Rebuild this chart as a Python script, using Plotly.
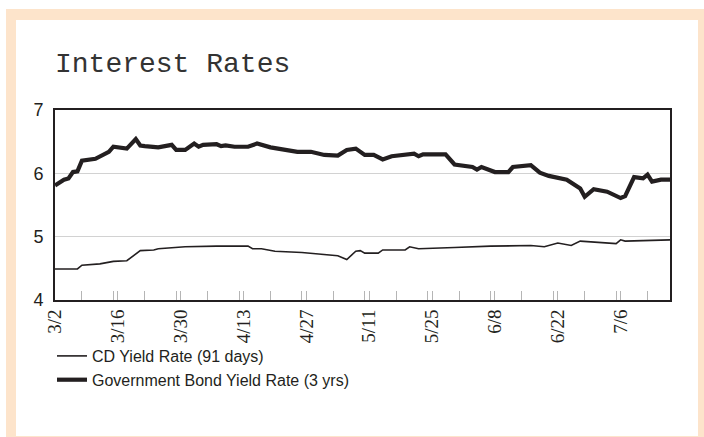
import plotly.graph_objects as go
import pandas as pd

# ---- data (days after 3/2, values in %) ----
start_date = "1998-03-02"
end_date = "1998-07-17"

bond_days = [0, 2, 3, 4, 5, 6, 9, 11, 12, 13, 16, 18, 19, 20, 23, 26, 27, 29, 31, 32,
             33, 36, 37, 38, 40, 43, 45, 48, 54, 57, 60, 63, 65, 67, 69, 71, 73, 75,
             80, 81, 82, 87, 89, 93, 94, 95, 98, 101, 102, 106, 108, 110, 114, 117,
             118, 120, 123, 126, 127, 129, 131, 132, 133, 135, 137]
bond_values = [5.81, 5.90, 5.92, 6.02, 6.03, 6.20, 6.23, 6.31, 6.34, 6.42, 6.39, 6.54,
               6.44, 6.43, 6.41, 6.45, 6.37, 6.37, 6.47, 6.42, 6.45, 6.46, 6.43, 6.44,
               6.42, 6.42, 6.47, 6.41, 6.34, 6.34, 6.29, 6.28, 6.37, 6.39, 6.29, 6.29,
               6.22, 6.27, 6.31, 6.27, 6.30, 6.30, 6.14, 6.10, 6.06, 6.10, 6.02, 6.02,
               6.10, 6.13, 6.01, 5.96, 5.90, 5.76, 5.63, 5.75, 5.71, 5.61, 5.64, 5.94,
               5.92, 5.98, 5.87, 5.90, 5.90]

cd_days = [0, 5, 6, 10, 13, 16, 19, 22, 23, 29, 36, 43, 44, 46, 49, 55, 63, 65, 67,
           68, 69, 72, 73, 78, 79, 81, 89, 97, 106, 109, 112, 115, 117, 125, 126, 127, 137]
cd_values = [4.49, 4.49, 4.55, 4.57, 4.61, 4.62, 4.78, 4.79, 4.81, 4.84, 4.85, 4.85,
             4.81, 4.81, 4.77, 4.75, 4.70, 4.64, 4.77, 4.78, 4.74, 4.74, 4.79, 4.79,
             4.84, 4.81, 4.83, 4.85, 4.86, 4.84, 4.90, 4.86, 4.93, 4.89, 4.95, 4.93, 4.95]

series_names = ["CD Yield Rate (91 days)", "Government Bond Yield Rate (3 yrs)"]
y_ticks = [4, 5, 6, 7]
title_text = "Interest Rates"

# ---- styling ----
INK = "#231f20"
PEACH = "#fde4cb"
W, H = 704, 437
L, R, T, B = 55, 670, 110, 300
DAY_MS = 86400000

base = pd.Timestamp(start_date)
bond_x = [base + pd.Timedelta(days=d) for d in bond_days]
cd_x = [base + pd.Timedelta(days=d) for d in cd_days]

fig = go.Figure()
fig.add_trace(go.Scatter(x=cd_x, y=cd_values, mode="lines", name=series_names[0],
                         line=dict(color=INK, width=1.6)))
fig.add_trace(go.Scatter(x=bond_x, y=bond_values, mode="lines", name=series_names[1],
                         line=dict(color=INK, width=4.2)))

def px_x(p):
    return (p - L) / (R - L)

def px_y(p):
    return (B - p) / (B - T)

shapes = [
    dict(type="rect", xref="paper", yref="paper", layer="below",
         x0=px_x(6), x1=px_x(720), y0=px_y(9), y1=px_y(450),
         fillcolor=PEACH, line=dict(width=0)),
    dict(type="rect", xref="paper", yref="paper", layer="below",
         x0=px_x(16), x1=px_x(698), y0=px_y(20), y1=px_y(436),
         fillcolor="white", line=dict(width=0)),
]

narrow = "Liberation Sans Narrow, Arial Narrow, Liberation Sans, sans-serif"

fig.update_layout(
    width=W, height=H,
    margin=dict(l=L, r=W - R, t=T, b=H - B, pad=0),
    paper_bgcolor="white", plot_bgcolor="white",
    shapes=shapes,
    title=dict(text=title_text, x=55 / W, xanchor="left", xref="container",
               y=1 - 52 / H, yanchor="top", yref="container",
               font=dict(family="Liberation Mono, Courier New, monospace", size=28, color="#333333")),
    showlegend=True,
    legend=dict(x=px_x(52), y=px_y(339), xanchor="left", yanchor="top",
                bgcolor="rgba(0,0,0,0)", font=dict(family=narrow, size=16, color=INK),
                tracegroupgap=0, itemwidth=30),
    xaxis=dict(
        type="date", range=[start_date, end_date],
        tick0=start_date, dtick=14 * DAY_MS, tickformat="%-m/%-d",
        tickangle=-90, showgrid=False,
        ticks="inside", ticklen=9, tickcolor="#b5b5b5", tickwidth=1,
        minor=dict(dtick=7 * DAY_MS, ticks="inside", ticklen=9, tickcolor="#b5b5b5", showgrid=False),
        showline=True, linecolor=INK, linewidth=2, mirror=True,
        tickfont=dict(family="Liberation Serif, Times New Roman, serif", size=19, color=INK),
        zeroline=False,
    ),
    yaxis=dict(
        range=[4, 7], tickvals=y_ticks, ticktext=[str(v) for v in y_ticks],
        showgrid=True, gridcolor="#d2d2d2", gridwidth=1,
        showline=True, linecolor=INK, linewidth=2, mirror=True,
        ticks="", ticklabelstandoff=6,
        tickfont=dict(family=narrow, size=18, color=INK),
        zeroline=False,
    ),
)

fig.write_html("out.html")
